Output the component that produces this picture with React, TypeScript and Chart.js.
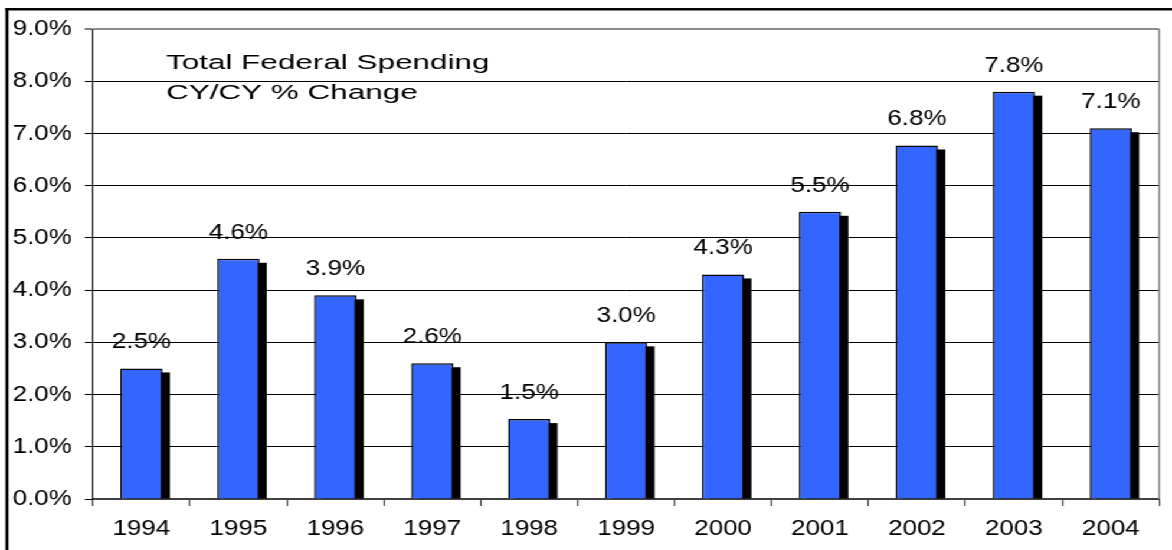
import React, { useEffect, useRef } from "react";
import { Chart, registerables } from "chart.js";

Chart.register(...registerables);

const years = ["1994", "1995", "1996", "1997", "1998", "1999", "2000", "2001", "2002", "2003", "2004"];
const changePct = [2.5, 4.6, 3.9, 2.6, 1.53, 3.0, 4.3, 5.5, 6.77, 7.8, 7.1];
const yTickValues = [0, 1, 2, 3, 4, 5, 6, 7, 8, 9];
const titleLines = ["Total Federal Spending", "CY/CY % Change"];

const LOGICAL_W = 993;
const H = 550;
const SX = 1172 / LOGICAL_W;
const FONT = "'Liberation Sans', Arial, Helvetica, sans-serif";

const framePlugin = {
  id: "frame",
  beforeDraw(chart: any) {
    const ctx = chart.ctx;
    ctx.save();
    ctx.fillStyle = "#ffffff";
    ctx.fillRect(0, 0, chart.width, chart.height);
    ctx.fillStyle = "#000000";
    ctx.fillRect(4.6, 8, 2.6, H);
    ctx.fillRect(4.6, 8, LOGICAL_W, 2.5);
    ctx.restore();
  },
};

const shadowPlugin = {
  id: "barShadow",
  beforeDatasetsDraw(chart: any) {
    const ctx = chart.ctx;
    const meta = chart.getDatasetMeta(0);
    ctx.save();
    ctx.fillStyle = "#000000";
    meta.data.forEach((el: any) => {
      const p = el.getProps(["x", "y", "base", "width"], true);
      const dx = 6.2;
      const dy = 4;
      ctx.fillRect(p.x - p.width / 2 + dx, p.y + dy, p.width, p.base - p.y - dy);
    });
    ctx.restore();
  },
};

const labelPlugin = {
  id: "valueLabels",
  afterDatasetsDraw(chart: any) {
    const ctx = chart.ctx;
    const meta = chart.getDatasetMeta(0);
    const ds = chart.data.datasets[0].data as number[];
    ctx.save();
    ctx.fillStyle = "#000000";
    ctx.font = `22px ${FONT}`;
    ctx.textAlign = "center";
    ctx.textBaseline = "alphabetic";
    meta.data.forEach((el: any, i: number) => {
      const p = el.getProps(["x", "y"], true);
      ctx.fillText(ds[i].toFixed(1) + "%", p.x, p.y - 20);
    });
    // plot border (right)
    const a = chart.chartArea;
    ctx.strokeStyle = "#8c8c8c";
    ctx.lineWidth = 2 / SX;
    ctx.beginPath();
    ctx.moveTo(a.right, a.top);
    ctx.lineTo(a.right, a.bottom);
    ctx.stroke();
    // title
    ctx.fillStyle = "#000000";
    ctx.font = `20.5px ${FONT}`;
    ctx.textAlign = "left";
    const tx = 166 / SX;
    const baselines = [69, 98.5];
    titleLines.forEach((line, i) => {
      ctx.save();
      ctx.translate(tx, baselines[i]);
      ctx.scale(1.3, 1);
      ctx.fillText(line, 0, 0);
      ctx.restore();
    });
    ctx.restore();
  },
};

export default function App() {
  const ref = useRef<HTMLCanvasElement | null>(null);

  useEffect(() => {
    document.body.style.margin = "0";
    const canvas = ref.current;
    if (!canvas) return;
    const chart = new Chart(canvas, {
      type: "bar",
      data: {
        labels: years,
        datasets: [
          {
            data: changePct,
            backgroundColor: "#3366ff",
            borderColor: "#000000",
            borderWidth: 1.5,
            barPercentage: 0.435,
            categoryPercentage: 1,
          },
        ],
      },
      options: {
        responsive: false,
        maintainAspectRatio: false,
        animation: false,
        devicePixelRatio: 1,
        layout: { padding: { left: 0, right: 10.8, top: 29, bottom: 0 } },
        plugins: {
          legend: { display: false },
          tooltip: { enabled: false },
          title: { display: false },
        },
        scales: {
          x: {
            afterFit: (scale: any) => {
              scale.height = H - 499;
            },
            grid: {
              display: true,
              drawOnChartArea: false,
              offset: true,
              tickLength: 7,
              tickColor: "#404040",
              tickWidth: 1.2,
            },
            border: { color: "#404040", width: 2 },
            ticks: {
              color: "#000000",
              font: { family: FONT, size: 22 },
              padding: 10,
              maxRotation: 0,
              autoSkip: false,
            },
          },
          y: {
            min: 0,
            max: 9,
            afterFit: (scale: any) => {
              scale.width = 93 / SX;
            },
            afterBuildTicks: (scale: any) => {
              scale.ticks = yTickValues.map((v) => ({ value: v }));
            },
            grid: {
              color: (c: any) => (c.tick && c.tick.value === 9 ? "#8c8c8c" : "#000000"),
              lineWidth: (c: any) => (c.tick && c.tick.value === 9 ? 2 : 1),
              tickLength: 7,
              tickColor: "#000000",
              tickWidth: 1,
            },
            border: { color: "#000000", width: 1 },
            ticks: {
              stepSize: 1,
              color: "#000000",
              font: { family: FONT, size: 22 },
              padding: 11,
              callback: (v: any) => Number(v).toFixed(1) + "%",
            },
          },
        },
      },
      plugins: [framePlugin, shadowPlugin, labelPlugin],
    });
    return () => chart.destroy();
  }, []);

  return (
    <div
      style={{
        position: "fixed",
        left: 0,
        top: 0,
        width: LOGICAL_W,
        height: H,
        transform: `scaleX(${SX})`,
        transformOrigin: "0 0",
        background: "#ffffff",
      }}
    >
      <canvas ref={ref} width={LOGICAL_W} height={H} style={{ display: "block" }} />
    </div>
  );
}
